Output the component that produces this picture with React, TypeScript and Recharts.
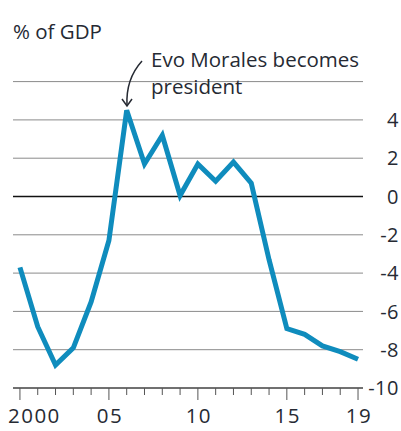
import { LineChart, Line, XAxis, YAxis, CartesianGrid, ReferenceLine } from 'recharts';

const years = [2000, 2001, 2002, 2003, 2004, 2005, 2006, 2007, 2008, 2009, 2010, 2011, 2012, 2013, 2014, 2015, 2016, 2017, 2018, 2019];
const balance = [-3.7, -6.8, -8.8, -7.9, -5.5, -2.3, 4.5, 1.7, 3.2, 0.05, 1.7, 0.8, 1.8, 0.7, -3.3, -6.9, -7.2, -7.8, -8.1, -8.5];
const yTicks = [-10, -8, -6, -4, -2, 0, 2, 4];
const labelledYears: Record<number, string> = { 2000: '2000', 2005: '05', 2010: '10', 2015: '15', 2019: '19' };

const data = years.map((year, i) => ({ year, value: balance[i] }));

const FONT = '"Open Sans", "Noto Sans", sans-serif';
const TEXT = '#262a33';

const XTick = (props: any) => {
    const { x, y, payload } = props;
    const label = labelledYears[payload.value];
    const first = payload.value === years[0];
    return (
        <g>
            <line x1={x} x2={x} y1={y} y2={y + (label ? 12 : 7)} stroke="#555" strokeWidth={1} />
            {label && (
                <text
                    x={first ? x - 12 : x + 1}
                    y={y + 35}
                    textAnchor={first ? 'start' : 'middle'}
                    fontSize={20.5}
                    letterSpacing={1.5}
                    fontFamily={FONT}
                    fill={TEXT}
                >
                    {label}
                </text>
            )}
        </g>
    );
};

const YTick = (props: any) => {
    const { x, y, payload } = props;
    return (
        <text x={x + 36} y={y} dy="0.36em" textAnchor="end" fontSize={20} letterSpacing={0.5} fontFamily={FONT} fill={TEXT}>
            {payload.value}
        </text>
    );
};

export default function App() {
    return (
        <div style={{ position: 'absolute', left: 0, top: 0, width: 401, height: 431, background: '#fff', fontFamily: FONT }}>
            <LineChart width={401} height={431} data={data} margin={{ top: 81.6, right: 0, left: 13, bottom: 0 }}>
                <CartesianGrid vertical={false} stroke="#8a8a8a" strokeWidth={1} />
                <XAxis
                    dataKey="year"
                    type="number"
                    domain={[1999.61, 2019.28]}
                    ticks={years}
                    interval={0}
                    height={43}
                    tickSize={0}
                    tickMargin={0}
                    tickLine={false}
                    axisLine={{ stroke: '#555', strokeWidth: 1.5 }}
                    tick={<XTick />}
                />
                <YAxis
                    orientation="right"
                    domain={[-10, 6]}
                    ticks={yTicks}
                    width={38}
                    tickSize={0}
                    tickMargin={0}
                    axisLine={false}
                    tickLine={false}
                    tick={<YTick />}
                />
                <ReferenceLine y={0} stroke="#111" strokeWidth={1.5} />
                <Line
                    dataKey="value"
                    stroke="#0f8cbd"
                    strokeWidth={5}
                    dot={false}
                    strokeLinejoin="miter"
                    isAnimationActive={false}
                />
            </LineChart>
            <svg width={401} height={431} style={{ position: 'absolute', left: 0, top: 0, pointerEvents: 'none' }}>
                <text x={13} y={39} fontSize={20.5} fontFamily={FONT} fill={TEXT}>% of GDP</text>
                <text x={151} y={67} fontSize={20.5} fontFamily={FONT} fill={TEXT}>Evo Morales becomes</text>
                <text x={151} y={94} fontSize={20.5} fontFamily={FONT} fill={TEXT}>president</text>
                <path d="M142 61 C132 72 126 88 127 106" fill="none" stroke="#262a33" strokeWidth={1.5} />
                <path d="M122 99 L127 106 L132 99" fill="none" stroke="#262a33" strokeWidth={1.5} />
            </svg>
        </div>
    );
}
